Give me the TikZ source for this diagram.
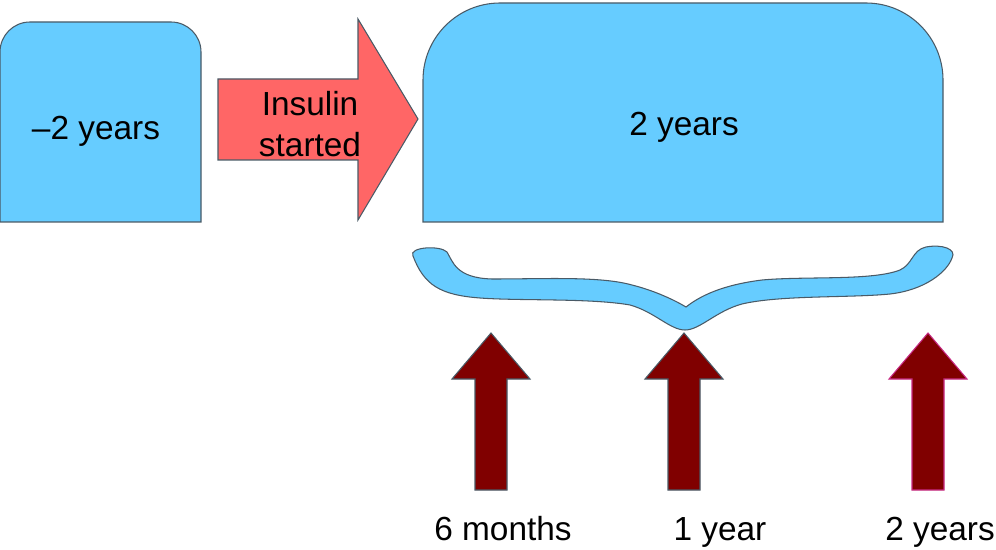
\documentclass[tikz,border=0pt]{standalone}
\usepackage{fontspec}
\setmainfont{Liberation Sans}
\usetikzlibrary{positioning}
\definecolor{skyblue}{HTML}{66CCFF}
\definecolor{salmonred}{HTML}{FF6666}
\definecolor{maroon}{HTML}{800000}
\definecolor{edgegray}{HTML}{4A5A66}

\begin{document}
\begin{tikzpicture}[x=0.02cm, y=-0.02cm,
    phase/.style={fill=skyblue, draw=edgegray, line width=0.6pt},
    label/.style={font=\fontsize{19}{23}\selectfont, inner sep=0pt, align=center}]
    \useasboundingbox (0, 0) rectangle (996, 550);

    % Before insulin
    \draw[phase] (0, 222) -- (0, 52) arc[start angle=180, end angle=270, radius=30]
        -- (171, 22) arc[start angle=270, end angle=360, radius=30] -- (201, 222) -- cycle;
    \node[label] (before) at (96, 131) {\textendash2 years};

    % Insulin arrow
    \draw[fill=salmonred, draw=edgegray, line width=0.6pt] (218, 79) -- (358, 79) -- (358, 19)
        -- (418, 119) -- (358, 220) -- (358, 160) -- (218, 160) -- cycle;
    \node[label] (insulin) at (310, 124) {Insulin\\started};

    % After insulin
    \draw[phase] (423, 222) -- (423, 80) arc[start angle=180, end angle=270, radius=77]
        -- (866, 3) arc[start angle=270, end angle=360, radius=77] -- (943, 222) -- cycle;
    \node[label] (after) at (684, 127) {2 years};

    % Brace
    \draw[phase] (413, 256) .. controls (408, 247) and (440, 245) .. (447, 252)
        .. controls (453, 262) and (456, 278) .. (492, 279)
        .. controls (545, 279) and (600, 276) .. (632, 285)
        .. controls (656, 291) and (676, 301) .. (686, 307)
        .. controls (700, 296) and (722, 285) .. (762, 280)
        .. controls (805, 276) and (872, 281) .. (900, 270)
        .. controls (913, 264) and (912, 250) .. (926, 247)
        .. controls (942, 244) and (957, 249) .. (952, 258)
        .. controls (947, 272) and (925, 290) .. (890, 294)
        .. controls (850, 298) and (780, 295) .. (742, 304)
        .. controls (716, 311) and (700, 330) .. (685, 330)
        .. controls (670, 330) and (655, 312) .. (630, 305)
        .. controls (590, 298) and (520, 301) .. (480, 298)
        .. controls (440, 295) and (424, 285) .. (413, 256) -- cycle;

    % Follow-up points
    \foreach \cx/\tx/\rim/\name/\txt in {491/503/edgegray/six/6 months, 684/720/edgegray/one/1 year, 928/940/magenta!80!black/two/2 years} {
        \draw[fill=maroon, draw=\rim, line width=0.6pt] (\cx-16, 490) -- (\cx-16, 379) -- (\cx-39, 379)
            -- (\cx, 333) -- (\cx+39, 379) -- (\cx+16, 379) -- (\cx+16, 490) -- cycle;
        \node[label, anchor=base] (\name) at (\tx, 540) {\txt};
    }
\end{tikzpicture}
\end{document}
